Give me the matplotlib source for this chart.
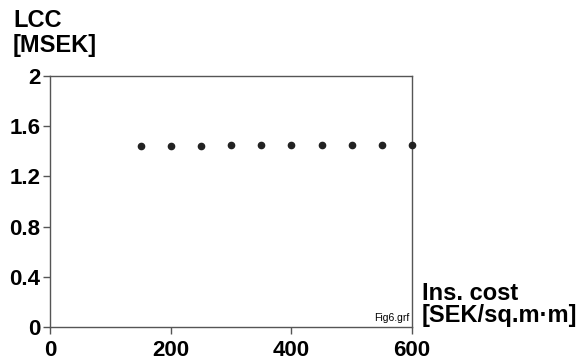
import matplotlib.pyplot as plt

# Insulation cost [SEK/sq.m·m] and life cycle cost [MSEK]
ins_cost = [150, 200, 250, 300, 350, 400, 450, 500, 550, 600]
lcc = [1.44, 1.445, 1.445, 1.45, 1.45, 1.45, 1.45, 1.45, 1.45, 1.45]

x_ticks = [0, 200, 400, 600]
y_ticks = [0, 0.4, 0.8, 1.2, 1.6, 2]
y_labels = ['0', '0.4', '0.8', '1.2', '1.6', '2']

plt.rcParams['font.family'] = ['Liberation Sans', 'DejaVu Sans']

fig = plt.figure(figsize=(5.83, 3.6), dpi=100)
ax = fig.add_axes([50 / 583, 1 - 327 / 360, 362 / 583, 251 / 360])

ax.plot(ins_cost, lcc, 'o', color='#222222', markersize=4.5, clip_on=False, zorder=3)

ax.set_xlim(0, 600)
ax.set_ylim(0, 2)
ax.set_xticks(x_ticks)
ax.set_yticks(y_ticks)
ax.set_yticklabels(y_labels)
ax.tick_params(direction='out', length=5, width=1, color='#555555', labelsize=16, pad=2)
ax.tick_params(axis='x', pad=4)
for lab in ax.get_xticklabels() + ax.get_yticklabels():
    lab.set_fontweight('bold')
for s in ax.spines.values():
    s.set_color('#555555')
    s.set_linewidth(1)

def px(x, y):
    return x / 583, 1 - y / 360

fig.text(*px(13, 27), 'LCC', fontsize=17, fontweight='bold', ha='left', va='baseline')
fig.text(*px(13, 52), '[MSEK]', fontsize=17, fontweight='bold', ha='left', va='baseline')
fig.text(*px(422, 300), 'Ins. cost', fontsize=17, fontweight='bold', ha='left', va='baseline')
fig.text(*px(422, 322), '[SEK/sq.m\u00b7m]', fontsize=17, fontweight='bold',
         ha='left', va='baseline')
fig.text(*px(409, 321), 'Fig6.grf', fontsize=7.5, ha='right', va='baseline')

fig.savefig('out.png', dpi=100)
